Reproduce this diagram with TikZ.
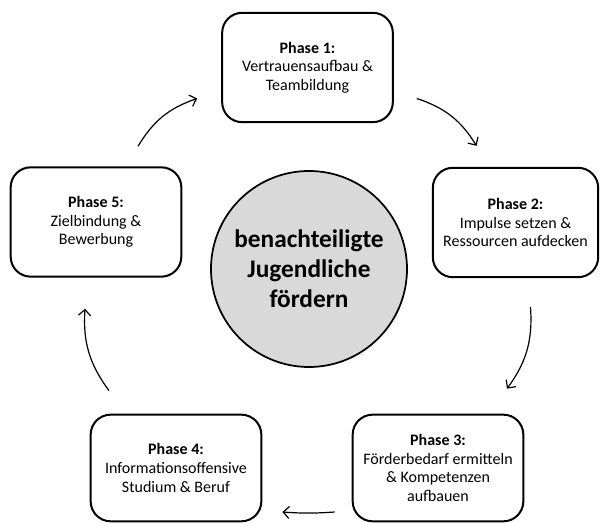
\documentclass[tikz,border=0pt]{standalone}
\usepackage{fontspec}
\setmainfont{Carlito}
\usepackage{tikz}
\usetikzlibrary{
  arrows.meta
  , shapes.geometric
}
\definecolor{circlegray}{HTML}{D9D9D9}

\tikzset{
  phase/.style={rectangle, rounded corners=15pt, draw=black, line width=1.5pt,
    align=center, minimum width=128pt, minimum height=82pt,
    font=\fontsize{12pt}{14pt}\selectfont},
  cycle/.style={-{Straight Barb[length=4.5pt,width=9pt]}, line width=0.9pt},
}

\begin{document}
\begin{tikzpicture}[x=0.75pt, y=-0.75pt]
      \useasboundingbox (0,0) rectangle (600,523);

      % center
      \node [circle, draw=black, line width=1.3pt, fill=circlegray,
        minimum size=147pt, align=center,
        font=\fontsize{19pt}{22.5pt}\selectfont\bfseries] (goal) at (309,269)
        {benachteiligte\\Jugendliche\\fördern};

      % phases
      \node [phase] (p1) at (307.5,67.5)
        {\textbf{Phase 1:}\\Vertrauensaufbau \&\\Teambildung};
      \node [phase, minimum width=124pt] (p2) at (515.5,222.5)
        {\textbf{Phase 2:}\\Impulse setzen \&\\Ressourcen aufdecken};
      \node [phase, minimum height=80pt] (p3) at (438,468)
        {\textbf{Phase 3:}\\Förderbedarf ermitteln\\\& Kompetenzen\\aufbauen};
      \node [phase, minimum height=80pt] (p4) at (176,468)
        {\textbf{Phase 4:}\\Informationsoffensive\\Studium \& Beruf};
      \node [phase] (p5) at (96,222)
        {\textbf{Phase 5:}\\Zielbindung \&\\Bewerbung};

      % arrows
      \draw [cycle] ([shift={(23,31)}]p1.east) to [bend left=20] ([shift={(-39,-21)}]p2.north);
      \draw [cycle] ([shift={(15,29)}]p2.south) to [bend left=20] ([shift={(69,-25)}]p3.north);
      \draw [cycle] ([shift={(-17,44)}]p3.west) to [bend left=4] ([shift={(20,44)}]p4.east);
      \draw [cycle] ([shift={(-67,-23)}]p4.north) to [bend left=20] ([shift={(-11,31)}]p5.south);
      \draw [cycle] ([shift={(42,-20)}]p5.north) to [bend left=20] ([shift={(-24,31)}]p1.west);
\end{tikzpicture}
\end{document}
